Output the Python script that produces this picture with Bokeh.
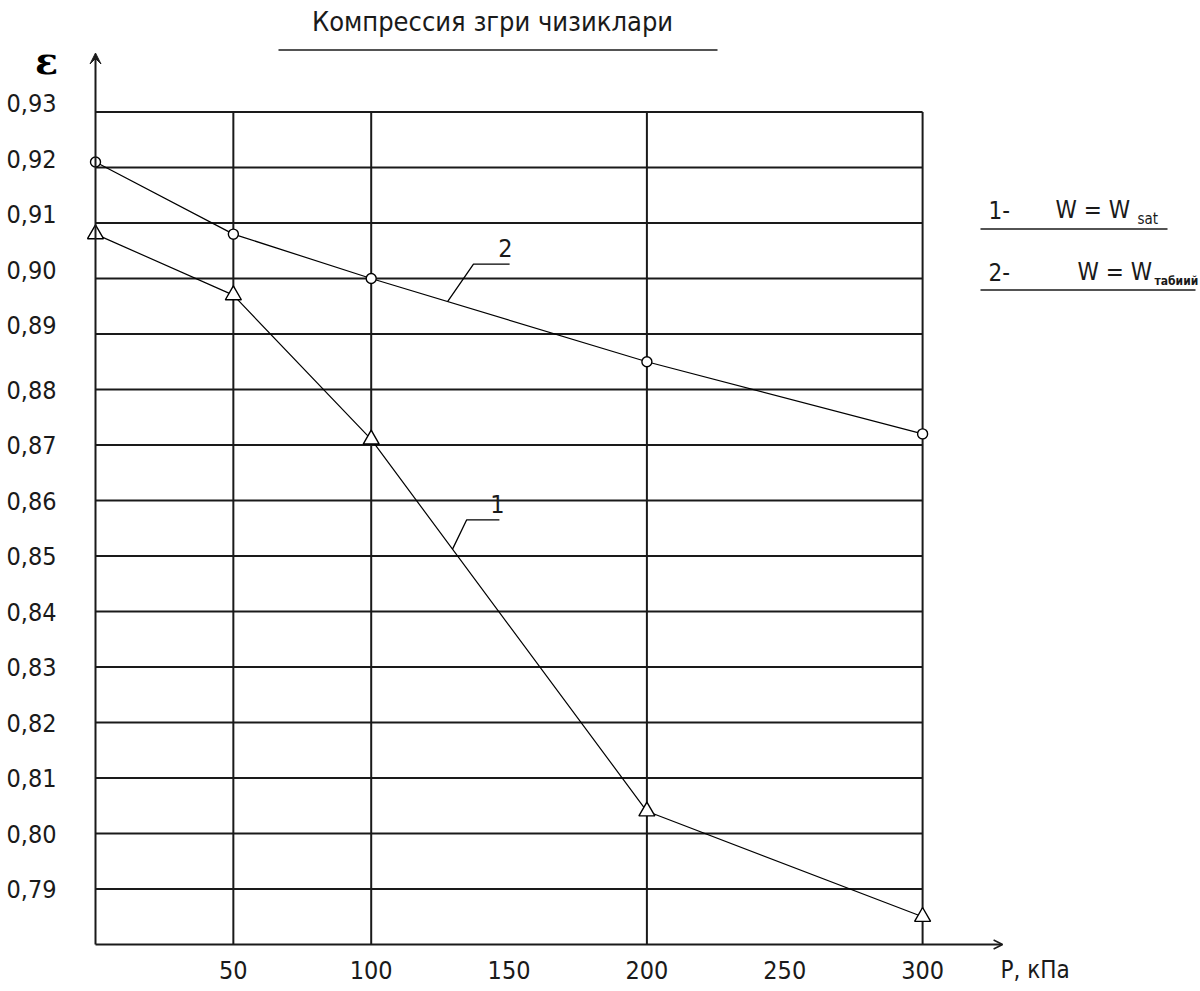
import numpy as np
from bokeh.plotting import figure
from bokeh.models import Range1d, Arrow, VeeHead, OpenHead
from bokeh.core.properties import value
from bokeh.embed import file_html
from bokeh.resources import INLINE

# ---------------- data ----------------
pressure = [0, 50, 100, 200, 300]                       # P, кПа
eps_curve1 = [0.908, 0.897, 0.871, 0.804, 0.785]         # 1 - W = W sat (triangles)
eps_curve2 = [0.921, 0.908, 0.900, 0.885, 0.872]         # 2 - W = W табиий (circles)

x_grid = [50, 100, 200, 300]
x_tick_values = [50, 100, 150, 200, 250, 300]
x_tick_labels = ["50", "100", "150", "200", "250", "300"]
y_tick_values = [0.93, 0.92, 0.91, 0.90, 0.89, 0.88, 0.87, 0.86,
                 0.85, 0.84, 0.83, 0.82, 0.81, 0.80, 0.79]
y_tick_labels = ["0,93", "0,92", "0,91", "0,90", "0,89", "0,88", "0,87", "0,86",
                 "0,85", "0,84", "0,83", "0,82", "0,81", "0,80", "0,79"]
title_text = "Компрессия згри чизиклари"
x_axis_title = "P, кПа"
y_axis_title = "ε"
legend_numbers = ["1-", "2-"]
legend_subscripts = ["sat", "табиий"]

# ---------------- geometry ----------------
W, H = 1200, 991
PX_X = 2.757          # px per kPa
PX_Y = 5550.0         # px per unit of ε
X0_PX = 95            # figure px of P = 0
Y_BOTTOM = 0.78       # ε at x axis
Y0_PX = 944           # figure px (from top) of the x axis

def dx(px):
    return px / PX_X

def dy(px):
    return px / PX_Y

x_range = Range1d(-dx(X0_PX), dx(W - X0_PX))
y_range = Range1d(Y_BOTTOM - dy(H - Y0_PX), Y_BOTTOM + dy(Y0_PX))

p = figure(width=W, height=H, x_range=x_range, y_range=y_range,
           output_backend="svg", toolbar_location=None,
           x_axis_type=None, y_axis_type=None, min_border=0,
           outline_line_color=None, background_fill_color="white",
           border_fill_color="white")
p.grid.visible = False

FONT = value("DejaVu Sans Condensed, Liberation Sans, sans-serif")
INK = "#1a1a1a"
x_max = max(pressure)
y_top = max(y_tick_values)

# grid
p.segment(x0=0, x1=x_max, y0=y_tick_values, y1=y_tick_values,
          line_color=INK, line_width=2)
p.segment(x0=x_grid, x1=x_grid, y0=Y_BOTTOM, y1=y_top,
          line_color=INK, line_width=2)

# axes with arrows
p.add_layout(Arrow(end=VeeHead(size=11, fill_color=INK, line_color=INK),
                   x_start=0, y_start=Y_BOTTOM, x_end=0, y_end=y_top + dy(59),
                   line_color=INK, line_width=2))
p.add_layout(Arrow(end=OpenHead(size=9, line_color=INK, line_width=1.5),
                   x_start=0, y_start=Y_BOTTOM, x_end=x_max + dx(80), y_end=Y_BOTTOM,
                   line_color=INK, line_width=2))

# curves
p.line(pressure, eps_curve1, line_color="black", line_width=1.2)
p.line(pressure, eps_curve2, line_color="black", line_width=1.2)
p.scatter(pressure, eps_curve1, marker="triangle", size=16,
          fill_color="white", line_color="black", line_width=1.4)
p.scatter(pressure, eps_curve2, marker="circle", size=10,
          fill_color="white", line_color="black", line_width=1.4)

# y tick labels
y_label_pos = [v + (dy(9) if v > 0.885 else 0) for v in y_tick_values]
p.text(x=[-dx(39)] * len(y_tick_values), y=y_label_pos, text=y_tick_labels,
       text_align="right", text_baseline="middle", text_font=FONT,
       text_font_size="25px", text_color=INK)

# x tick labels
p.text(x=x_tick_values, y=[Y_BOTTOM - dy(25)] * len(x_tick_values), text=x_tick_labels,
       text_align="center", text_baseline="middle", text_font=FONT,
       text_font_size="25px", text_color=INK)
p.text(x=[x_max + dx(78)], y=[Y_BOTTOM - dy(25)], text=[x_axis_title],
       text_align="left", text_baseline="middle", text_font=FONT,
       text_font_size="24px", text_color=INK)

# epsilon
p.text(x=[-dx(49)], y=[y_top + dy(52)], text=[y_axis_title],
       text_align="center", text_baseline="middle", text_font=value("DejaVu Serif"),
       text_font_style="bold", text_font_size="38px", text_color="black")

# title with underline
p.text(x=[dx(397)], y=[y_top + dy(91)], text=[title_text],
       text_align="center", text_baseline="middle", text_font=FONT,
       text_font_size="27px", text_color=INK)
p.line([dx(183), dx(622)], [y_top + dy(62)] * 2, line_color=INK, line_width=1.5)

# leader labels on the curves
lx2 = 127.7
p.line([lx2, 137.1, 150.2],
       [float(np.interp(lx2, pressure, eps_curve2)), 0.9026, 0.9026],
       line_color="black", line_width=1.3)
p.text(x=[148.7], y=[0.9055], text=["2"], text_align="center", text_baseline="middle",
       text_font=FONT, text_font_size="25px", text_color=INK)
lx1 = 129.5
p.line([lx1, 134.6, 146.5],
       [float(np.interp(lx1, pressure, eps_curve1)), 0.8565, 0.8565],
       line_color="black", line_width=1.3)
p.text(x=[145.8], y=[0.8594], text=["1"], text_align="center", text_baseline="middle",
       text_font=FONT, text_font_size="25px", text_color=INK)

# legend (right side)
leg_y = [y_top - dy(98), y_top - dy(160)]
p.text(x=[dx(893)] * 2, y=leg_y, text=legend_numbers, text_align="left",
       text_baseline="middle", text_font=FONT, text_font_size="24px", text_color=INK)
p.text(x=[dx(960), dx(982)], y=leg_y, text=["W = W", "W = W"], text_align="left",
       text_baseline="middle", text_font=FONT, text_font_size="24px", text_color=INK)
p.text(x=[dx(1042)], y=[leg_y[0] - dy(9)], text=[legend_subscripts[0]],
       text_align="left", text_baseline="middle", text_font=FONT,
       text_font_size="15px", text_color=INK)
p.text(x=[dx(1059)], y=[leg_y[1] - dy(9)], text=[legend_subscripts[1]],
       text_align="left", text_baseline="middle", text_font=FONT,
       text_font_style="bold", text_font_size="12px", text_color=INK)
p.segment(x0=[dx(885)] * 2, x1=[dx(1072), dx(1100)],
          y0=[y_top - dy(117), y_top - dy(178)], y1=[y_top - dy(117), y_top - dy(178)],
          line_color=INK, line_width=1.5)

open("out.html", "w").write(file_html(p, INLINE))
